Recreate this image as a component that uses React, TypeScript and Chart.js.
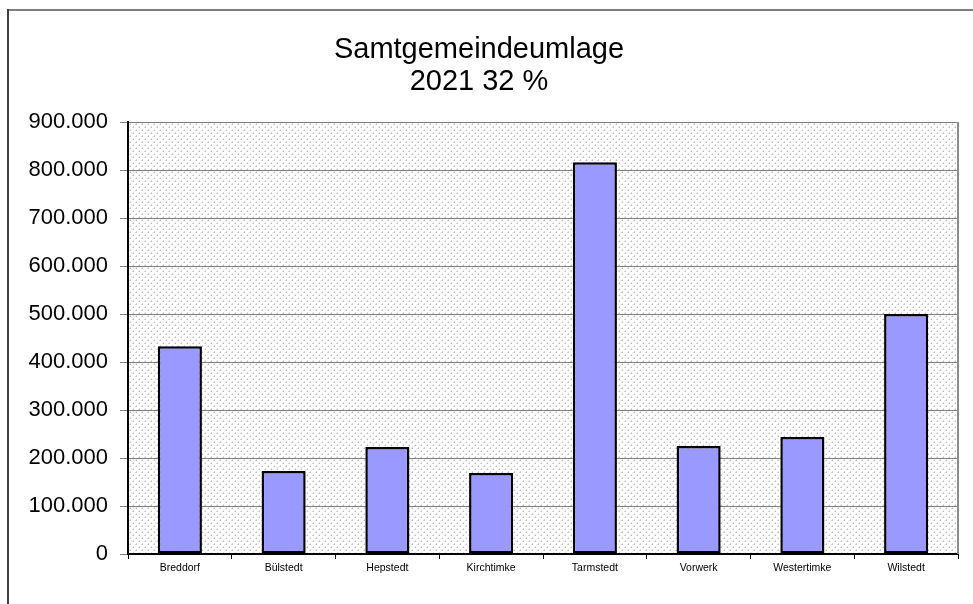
import React, { useEffect, useRef } from "react";
import { Chart, registerables } from "chart.js";

Chart.register(...registerables);

const titleLines = ["Samtgemeindeumlage", "2021 32 %"];
const categories = [
  "Breddorf",
  "Bülstedt",
  "Hepstedt",
  "Kirchtimke",
  "Tarmstedt",
  "Vorwerk",
  "Westertimke",
  "Wilstedt",
];
const umlageValues = [433000, 173000, 223000, 169000, 816000, 225000, 244000, 500000];
const yTickValues = [0, 100000, 200000, 300000, 400000, 500000, 600000, 700000, 800000, 900000];

const formatDe = (v: number) => String(Math.round(v)).replace(/\B(?=(\d{3})+(?!\d))/g, ".");

const FONT = "'Liberation Sans', Arial, sans-serif";

function makePattern(ctx: CanvasRenderingContext2D) {
  const c = document.createElement("canvas");
  c.width = 6;
  c.height = 6;
  const p = c.getContext("2d")!;
  p.fillStyle = "#ffffff";
  p.fillRect(0, 0, 6, 6);
  p.fillStyle = "#bdbdbd";
  p.fillRect(1, 1, 1, 1);
  p.fillRect(4, 4, 1, 1);
  p.fillStyle = "#dedede";
  p.fillRect(0, 1, 1, 1);
  p.fillRect(1, 0, 1, 1);
  p.fillRect(3, 4, 1, 1);
  p.fillRect(4, 3, 1, 1);
  return ctx.createPattern(c, "repeat");
}

const framePlugin = {
  id: "framePlugin",
  beforeDraw(chart: any) {
    const { ctx, chartArea, width, height } = chart;
    ctx.save();
    ctx.fillStyle = "#ffffff";
    ctx.fillRect(0, 0, width, height);
    // outer frame
    ctx.strokeStyle = "#7f7f7f";
    ctx.lineWidth = 2;
    ctx.beginPath();
    ctx.moveTo(8, 10);
    ctx.lineTo(width + 5, 10);
    ctx.stroke();
    ctx.strokeStyle = "#404040";
    ctx.beginPath();
    ctx.moveTo(8, 9);
    ctx.lineTo(8, height + 5);
    ctx.stroke();
    // plot background pattern
    const pat = makePattern(ctx);
    if (pat) {
      ctx.fillStyle = pat;
      ctx.fillRect(chartArea.left, chartArea.top, chartArea.right - chartArea.left, chartArea.bottom - chartArea.top);
    }
    ctx.restore();
  },
  beforeDatasetsDraw(chart: any) {
    const { ctx, chartArea } = chart;
    ctx.save();
    ctx.strokeStyle = "#8c8c8c";
    ctx.lineWidth = 2;
    ctx.beginPath();
    ctx.moveTo(chartArea.right, chartArea.top);
    ctx.lineTo(chartArea.right, chartArea.bottom);
    ctx.stroke();
    ctx.restore();
  },
};

export default function App() {
  const ref = useRef<HTMLCanvasElement | null>(null);

  useEffect(() => {
    document.body.style.margin = "0";
    const canvas = ref.current!;
    const chart = new Chart(canvas, {
      type: "bar",
      data: {
        labels: categories,
        datasets: [
          {
            label: "Samtgemeindeumlage",
            data: umlageValues,
            backgroundColor: "#9999ff",
            borderColor: "#000000",
            borderWidth: 2.5,
            borderSkipped: false,
            barPercentage: 0.425,
            categoryPercentage: 1,
          },
        ],
      },
      options: {
        responsive: false,
        animation: false,
        layout: { padding: { left: 0, right: 15, top: 0, bottom: 0 } },
        plugins: {
          legend: { display: false },
          tooltip: { enabled: false },
          title: {
            display: true,
            text: titleLines,
            color: "#000000",
            font: { family: FONT, size: 29, weight: "normal", lineHeight: 32 / 29 },
            padding: { top: 34, bottom: 24 },
          },
        },
        scales: {
          x: {
            offset: true,
            grid: {
              offset: true,
              drawOnChartArea: false,
              drawTicks: true,
              tickLength: 5,
              color: "#000000",
              lineWidth: 1,
            },
            border: { color: "#000000", width: 2 },
            ticks: {
              color: "#000000",
              font: { family: FONT, size: 10.5 },
              padding: 3,
              maxRotation: 0,
              autoSkip: false,
            },
            afterFit(scale: any) {
              scale.height = 50;
            },
          },
          y: {
            min: 0,
            max: 900000,
            afterBuildTicks(scale: any) {
              scale.ticks = yTickValues.map((v) => ({ value: v }));
            },
            grid: {
              color: "#808080",
              lineWidth: 1,
              tickLength: 8,
            },
            border: { color: "#000000", width: 2 },
            ticks: {
              color: "#000000",
              font: { family: FONT, size: 22 },
              padding: 12,
              callback: (v: any) => formatDe(Number(v)),
            },
            afterFit(scale: any) {
              scale.width = 128;
            },
          },
        },
      },
      plugins: [framePlugin],
    });
    return () => chart.destroy();
  }, []);

  return (
    <div style={{ position: "absolute", left: 0, top: 0, width: 973, height: 604 }}>
      <canvas ref={ref} width={973} height={604} style={{ display: "block" }} />
    </div>
  );
}
